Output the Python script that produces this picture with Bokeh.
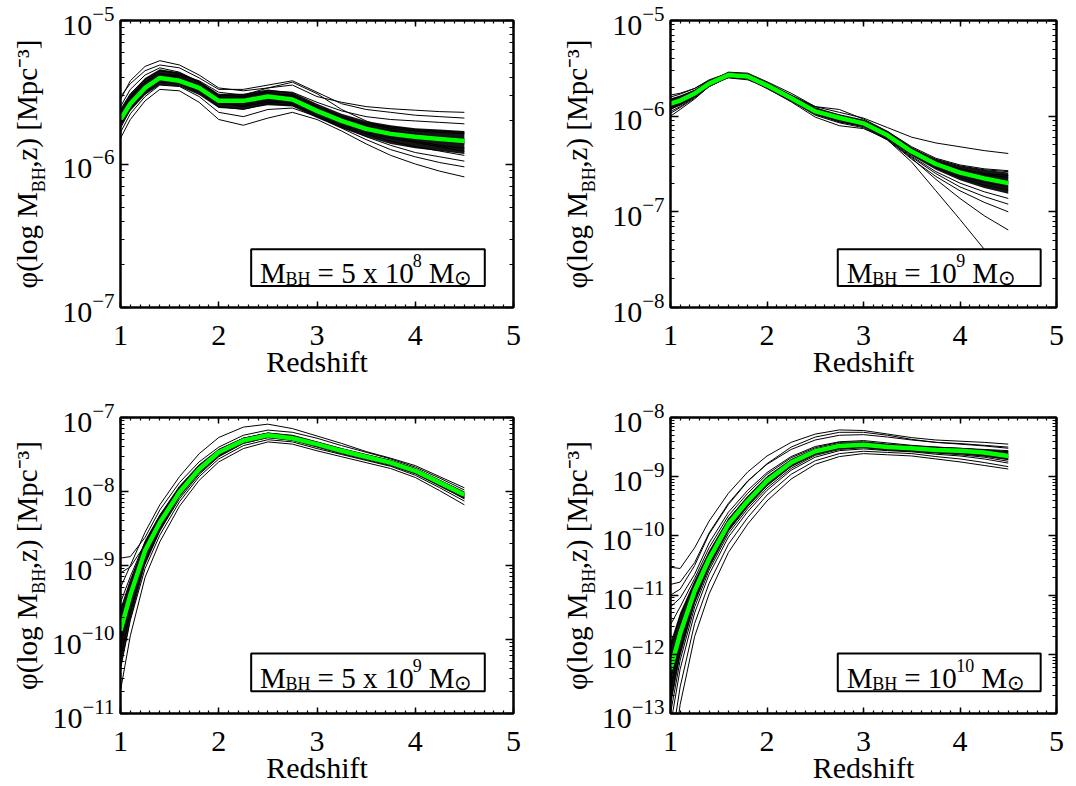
import math
from bokeh.plotting import figure
from bokeh.layouts import gridplot
from bokeh.models import (FixedTicker, LogAxis, LinearAxis, Label, BoxAnnotation,
                          CustomJSTickFormatter, Range1d)
from bokeh.embed import file_html
from bokeh.resources import INLINE

# ---------------- data (log10 of phi) ----------------
redshift = [1.0, 1.1, 1.25, 1.4, 1.6, 1.8, 2.0, 2.25, 2.5, 2.75, 3.0, 3.25, 3.5, 3.75, 4.0, 4.25, 4.5]

# Panel 1: M_BH = 5 x 10^8
p1_median = [-5.69, -5.58, -5.47, -5.40, -5.42, -5.47, -5.56, -5.56, -5.53, -5.55, -5.63, -5.70, -5.755, -5.79, -5.81, -5.825, -5.84]
p1_core_hi = [-5.62, -5.51, -5.40, -5.34, -5.36, -5.42, -5.51, -5.51, -5.48, -5.50, -5.58, -5.65, -5.70, -5.73, -5.75, -5.76, -5.77]
p1_core_lo = [-5.74, -5.63, -5.52, -5.45, -5.46, -5.52, -5.61, -5.62, -5.59, -5.60, -5.68, -5.75, -5.81, -5.86, -5.89, -5.91, -5.93]
p1_samples = [
    [-5.55, -5.42, -5.32, -5.28, -5.31, -5.38, -5.47, -5.49, -5.47, -5.45, -5.53, -5.57, -5.60, -5.615, -5.625, -5.635, -5.64],
    [-5.53, -5.44, -5.35, -5.31, -5.33, -5.40, -5.48, -5.48, -5.45, -5.42, -5.50, -5.58, -5.62, -5.64, -5.66, -5.67, -5.68],
    [-5.60, -5.48, -5.38, -5.33, -5.36, -5.43, -5.52, -5.53, -5.49, -5.50, -5.57, -5.63, -5.67, -5.69, -5.70, -5.71, -5.72],
    [-5.62, -5.51, -5.41, -5.35, -5.37, -5.43, -5.53, -5.55, -5.51, -5.52, -5.60, -5.67, -5.72, -5.75, -5.77, -5.78, -5.79],
    [-5.66, -5.54, -5.43, -5.37, -5.39, -5.45, -5.54, -5.54, -5.50, -5.53, -5.61, -5.69, -5.75, -5.79, -5.82, -5.84, -5.86],
    [-5.70, -5.58, -5.47, -5.40, -5.41, -5.46, -5.56, -5.57, -5.53, -5.54, -5.62, -5.70, -5.76, -5.81, -5.84, -5.87, -5.89],
    [-5.72, -5.60, -5.49, -5.42, -5.43, -5.49, -5.58, -5.59, -5.56, -5.58, -5.66, -5.73, -5.79, -5.84, -5.88, -5.91, -5.94],
    [-5.75, -5.62, -5.50, -5.43, -5.44, -5.50, -5.60, -5.62, -5.58, -5.59, -5.66, -5.74, -5.81, -5.87, -5.92, -5.95, -5.98],
    [-5.78, -5.65, -5.53, -5.45, -5.46, -5.53, -5.64, -5.67, -5.62, -5.61, -5.67, -5.75, -5.83, -5.90, -5.95, -5.99, -6.02],
    [-5.82, -5.69, -5.56, -5.48, -5.49, -5.57, -5.69, -5.73, -5.68, -5.64, -5.69, -5.77, -5.86, -5.94, -6.00, -6.05, -6.09],
    [-5.68, -5.57, -5.45, -5.38, -5.38, -5.42, -5.50, -5.52, -5.47, -5.43, -5.51, -5.62, -5.70, -5.76, -5.80, -5.83, -5.85],
    [-5.64, -5.53, -5.43, -5.37, -5.40, -5.47, -5.57, -5.60, -5.57, -5.57, -5.63, -5.68, -5.72, -5.74, -5.76, -5.77, -5.78],
    [-5.73, -5.61, -5.48, -5.41, -5.42, -5.48, -5.57, -5.58, -5.55, -5.56, -5.64, -5.72, -5.78, -5.82, -5.85, -5.88, -5.91],
    [-5.67, -5.56, -5.45, -5.39, -5.41, -5.47, -5.55, -5.55, -5.52, -5.53, -5.61, -5.68, -5.73, -5.77, -5.79, -5.81, -5.83],
]

# Panel 2: M_BH = 10^9
p2_median = [-5.87, -5.837, -5.763, -5.66, -5.57, -5.586, -5.678, -5.81, -5.95, -6.017, -6.075, -6.20, -6.37, -6.50, -6.59, -6.65, -6.70]
p2_core_hi = [-5.82, -5.79, -5.725, -5.625, -5.54, -5.555, -5.645, -5.775, -5.915, -5.98, -6.035, -6.155, -6.325, -6.45, -6.52, -6.56, -6.59]
p2_core_lo = [-5.93, -5.89, -5.805, -5.695, -5.60, -5.615, -5.715, -5.845, -5.985, -6.055, -6.11, -6.235, -6.415, -6.56, -6.67, -6.75, -6.81]
p2_samples = [
    [-5.80, -5.77, -5.71, -5.62, -5.55, -5.57, -5.66, -5.78, -5.90, -5.96, -6.02, -6.12, -6.22, -6.28, -6.32, -6.36, -6.39],
    [-5.95, -5.90, -5.80, -5.68, -5.58, -5.59, -5.67, -5.80, -5.96, -6.06, -6.10, -6.25, -6.48, -6.78, -7.08, -7.39, -7.65],
    [-5.78, -5.76, -5.71, -5.63, -5.56, -5.58, -5.66, -5.79, -5.92, -6.00, -6.06, -6.18, -6.34, -6.45, -6.52, -6.56, -6.58],
    [-5.83, -5.80, -5.74, -5.65, -5.57, -5.58, -5.67, -5.80, -5.93, -6.01, -6.07, -6.19, -6.36, -6.48, -6.56, -6.61, -6.64],
    [-5.86, -5.83, -5.76, -5.66, -5.57, -5.59, -5.68, -5.81, -5.95, -6.02, -6.08, -6.20, -6.37, -6.50, -6.60, -6.66, -6.70],
    [-5.90, -5.86, -5.78, -5.67, -5.58, -5.59, -5.68, -5.82, -5.96, -6.03, -6.09, -6.22, -6.40, -6.54, -6.64, -6.72, -6.77],
    [-5.93, -5.88, -5.79, -5.68, -5.58, -5.60, -5.69, -5.83, -5.97, -6.04, -6.10, -6.23, -6.42, -6.58, -6.70, -6.79, -6.86],
    [-6.00, -5.93, -5.82, -5.69, -5.59, -5.60, -5.70, -5.84, -5.99, -6.07, -6.12, -6.25, -6.45, -6.63, -6.78, -6.90, -7.00],
    [-5.97, -5.91, -5.81, -5.69, -5.59, -5.61, -5.71, -5.85, -6.01, -6.10, -6.13, -6.24, -6.44, -6.66, -6.86, -7.04, -7.19],
    [-5.85, -5.82, -5.75, -5.64, -5.54, -5.55, -5.64, -5.76, -5.90, -5.93, -6.03, -6.16, -6.32, -6.44, -6.51, -6.55, -6.57],
    [-5.88, -5.84, -5.77, -5.67, -5.60, -5.62, -5.70, -5.82, -5.94, -6.00, -6.05, -6.17, -6.35, -6.49, -6.58, -6.64, -6.68],
    [-5.82, -5.79, -5.73, -5.64, -5.56, -5.57, -5.65, -5.78, -5.91, -5.99, -6.05, -6.18, -6.35, -6.47, -6.55, -6.60, -6.62],
    [-5.91, -5.87, -5.79, -5.68, -5.59, -5.61, -5.70, -5.84, -5.98, -6.06, -6.11, -6.24, -6.43, -6.60, -6.74, -6.84, -6.92],
    [-5.87, -5.84, -5.77, -5.66, -5.57, -5.58, -5.67, -5.81, -5.95, -6.03, -6.08, -6.21, -6.39, -6.52, -6.62, -6.69, -6.74],
]

# Panel 3: M_BH = 5 x 10^9
p3_median = [-9.88, -9.40, -8.80, -8.42, -8.01, -7.70, -7.47, -7.31, -7.24, -7.28, -7.36, -7.45, -7.53, -7.61, -7.72, -7.88, -8.045]
p3_core_hi = [-9.60, -9.20, -8.66, -8.31, -7.95, -7.65, -7.43, -7.275, -7.205, -7.245, -7.325, -7.415, -7.495, -7.575, -7.685, -7.84, -8.00]
p3_core_lo = [-10.40, -9.75, -9.00, -8.55, -8.08, -7.76, -7.53, -7.355, -7.28, -7.315, -7.395, -7.485, -7.565, -7.645, -7.765, -7.935, -8.10]
p3_samples = [
    [-8.90, -8.88, -8.62, -8.25, -7.88, -7.60, -7.40, -7.24, -7.17, -7.20, -7.28, -7.38, -7.47, -7.56, -7.67, -7.82, -7.98],
    [-9.30, -9.00, -8.55, -8.18, -7.80, -7.49, -7.27, -7.13, -7.09, -7.15, -7.25, -7.35, -7.46, -7.55, -7.65, -7.80, -7.95],
    [-9.50, -9.15, -8.68, -8.32, -7.93, -7.64, -7.43, -7.28, -7.21, -7.24, -7.33, -7.42, -7.50, -7.58, -7.69, -7.85, -8.01],
    [-9.70, -9.28, -8.75, -8.37, -7.97, -7.67, -7.45, -7.29, -7.22, -7.26, -7.34, -7.43, -7.51, -7.59, -7.70, -7.86, -8.03],
    [-9.95, -9.43, -8.83, -8.44, -8.03, -7.72, -7.49, -7.32, -7.25, -7.29, -7.37, -7.46, -7.54, -7.62, -7.73, -7.89, -8.05],
    [-10.10, -9.52, -8.88, -8.48, -8.06, -7.74, -7.51, -7.34, -7.26, -7.30, -7.39, -7.47, -7.55, -7.63, -7.75, -7.91, -8.08],
    [-10.25, -9.62, -8.95, -8.53, -8.10, -7.77, -7.53, -7.35, -7.27, -7.31, -7.40, -7.49, -7.57, -7.65, -7.76, -7.92, -8.10],
    [-10.40, -9.74, -9.04, -8.59, -8.14, -7.80, -7.56, -7.38, -7.30, -7.33, -7.42, -7.50, -7.58, -7.66, -7.78, -7.95, -8.13],
    [-10.69, -9.95, -9.16, -8.68, -8.20, -7.85, -7.60, -7.42, -7.33, -7.36, -7.45, -7.53, -7.61, -7.69, -7.81, -7.99, -8.18],
    [-9.10, -9.02, -8.72, -8.35, -7.95, -7.66, -7.46, -7.31, -7.24, -7.27, -7.36, -7.44, -7.52, -7.60, -7.70, -7.86, -8.02],
    [-9.80, -9.35, -8.79, -8.40, -7.99, -7.69, -7.47, -7.30, -7.23, -7.27, -7.36, -7.44, -7.52, -7.60, -7.72, -7.89, -8.07],
    [-10.00, -9.48, -8.86, -8.46, -8.04, -7.72, -7.48, -7.31, -7.23, -7.27, -7.35, -7.44, -7.52, -7.60, -7.71, -7.87, -8.04],
    [-9.60, -9.20, -8.70, -8.33, -7.94, -7.65, -7.44, -7.28, -7.21, -7.25, -7.34, -7.43, -7.51, -7.59, -7.70, -7.86, -8.02],
]

# Panel 4: M_BH = 10^10
p4_median = [-12.25, -11.65, -10.93, -10.39, -9.80, -9.41, -9.07, -8.76, -8.57, -8.48, -8.46, -8.50, -8.52, -8.55, -8.56, -8.59, -8.65]
p4_core_hi = [-11.80, -11.30, -10.75, -10.25, -9.70, -9.33, -9.00, -8.71, -8.53, -8.44, -8.42, -8.46, -8.48, -8.51, -8.52, -8.54, -8.58]
p4_core_lo = [-12.90, -12.05, -11.15, -10.55, -9.93, -9.51, -9.16, -8.83, -8.63, -8.53, -8.51, -8.55, -8.57, -8.60, -8.62, -8.66, -8.72]
p4_samples = [
    [-10.53, -10.55, -10.20, -9.75, -9.28, -8.92, -8.65, -8.42, -8.28, -8.21, -8.22, -8.28, -8.34, -8.38, -8.40, -8.42, -8.45],
    [-10.82, -10.78, -10.45, -9.95, -9.45, -9.07, -8.79, -8.54, -8.38, -8.30, -8.29, -8.33, -8.38, -8.42, -8.45, -8.48, -8.52],
    [-11.20, -11.05, -10.65, -10.12, -9.60, -9.23, -8.93, -8.66, -8.49, -8.41, -8.39, -8.43, -8.47, -8.50, -8.52, -8.55, -8.58],
    [-11.90, -11.35, -10.80, -10.28, -9.72, -9.33, -9.00, -8.71, -8.53, -8.44, -8.42, -8.46, -8.49, -8.51, -8.53, -8.55, -8.58],
    [-12.40, -11.70, -10.98, -10.42, -9.83, -9.43, -9.09, -8.78, -8.58, -8.49, -8.47, -8.50, -8.53, -8.56, -8.57, -8.60, -8.66],
    [-12.80, -11.95, -11.12, -10.52, -9.91, -9.50, -9.15, -8.83, -8.62, -8.52, -8.50, -8.54, -8.56, -8.59, -8.61, -8.65, -8.71],
    [-13.20, -12.25, -11.30, -10.65, -10.02, -9.59, -9.23, -8.89, -8.67, -8.56, -8.53, -8.56, -8.58, -8.62, -8.65, -8.70, -8.77],
    [-13.60, -12.55, -11.48, -10.80, -10.14, -9.69, -9.31, -8.96, -8.73, -8.61, -8.57, -8.59, -8.61, -8.66, -8.70, -8.76, -8.83],
    [-14.00, -12.85, -11.70, -10.98, -10.28, -9.80, -9.41, -9.04, -8.79, -8.66, -8.61, -8.63, -8.65, -8.70, -8.75, -8.81, -8.87],
    [-12.10, -11.50, -10.88, -10.35, -9.78, -9.38, -9.05, -8.75, -8.56, -8.47, -8.45, -8.49, -8.51, -8.54, -8.56, -8.58, -8.62],
    [-12.60, -11.82, -11.05, -10.47, -9.87, -9.46, -9.12, -8.80, -8.60, -8.50, -8.48, -8.52, -8.55, -8.58, -8.60, -8.63, -8.68],
    [-13.00, -12.10, -11.20, -10.58, -9.96, -9.54, -9.19, -8.86, -8.64, -8.54, -8.51, -8.55, -8.57, -8.60, -8.63, -8.67, -8.74],
    [-11.50, -11.20, -10.72, -10.20, -9.66, -9.28, -8.96, -8.68, -8.51, -8.42, -8.41, -8.45, -8.48, -8.50, -8.52, -8.54, -8.56],
    [-11.00, -10.90, -10.50, -9.97, -9.47, -9.08, -8.78, -8.50, -8.33, -8.25, -8.25, -8.30, -8.37, -8.42, -8.44, -8.47, -8.50],
]

# y-axis decades (log10 bounds) per panel
y_bounds = [(-7, -5), (-8, -5), (-11, -7), (-13, -8)]
x_ticks = [1, 2, 3, 4, 5]

NB = "\u00a0"
SUN = ("\u2299", 0.72, -0.17)
legend_texts = [
    [("M", 1, 0), ("BH", 0.62, -0.2), (NB + "=" + NB + "5" + NB + "x" + NB + "10", 1, 0), ("8", 0.62, 0.45), (NB + "M", 1, 0), SUN],
    [("M", 1, 0), ("BH", 0.62, -0.2), (NB + "=" + NB + "10", 1, 0), ("9", 0.62, 0.45), (NB + "M", 1, 0), SUN],
    [("M", 1, 0), ("BH", 0.62, -0.2), (NB + "=" + NB + "5" + NB + "x" + NB + "10", 1, 0), ("9", 0.62, 0.45), (NB + "M", 1, 0), SUN],
    [("M", 1, 0), ("BH", 0.62, -0.2), (NB + "=" + NB + "10", 1, 0), ("10", 0.62, 0.45), (NB + "M", 1, 0), SUN],
]
# y title: main line (with a gap where the subscript sits) and the subscript
ylabel_main = "\u03c6(log" + NB + "M" + NB * 3 + "\u200a" + ",z)" + NB + "[Mpc\u207b\u00b3]"
ylabel_sub = "BH" + NB * 7

# ---------------- layout / style ----------------
FONT = "Liberation Serif"
FS = 30      # tick labels / axis title
FT = 29      # legend and y title
GREEN = "#00ff00"

ADV = {"\u03c6": 0.52, "(": 0.333, ")": 0.333, "l": 0.278, "o": 0.5, "g": 0.5, " ": 0.25, NB: 0.25,
       "M": 0.889, "B": 0.667, "H": 0.722, ",": 0.25, "z": 0.444, "[": 0.333, "]": 0.333,
       "p": 0.5, "c": 0.444, "-": 0.333, "=": 0.564, "x": 0.5, "\u2299": 0.84}


def adv(s, size):
    return sum(ADV.get(ch, 0.5) for ch in s) * size


def style_axis(ax, maj, mino):
    ax.axis_line_width = 2
    ax.axis_line_color = "black"
    ax.major_tick_in = maj
    ax.major_tick_out = 0
    ax.minor_tick_in = mino
    ax.minor_tick_out = 0
    ax.major_tick_line_width = 1.5
    ax.minor_tick_line_width = 1.2
    ax.major_tick_line_color = "black"
    ax.minor_tick_line_color = "black"
    ax.major_label_text_font = FONT
    ax.major_label_text_font_size = f"{FS}px"
    ax.major_label_text_color = "black"


def blank(ax):
    ax.formatter = CustomJSTickFormatter(code="return ''")
    ax.major_label_text_font_size = "1px"


ROW_H = [397, 389]
ROW_TOP = [20, 20]
ROW_BOTTOM = [90, 73]
LAB_W = 48
COL_W = [502, 470]
COL_LEFT = [68, 68]
COL_RIGHT = [37, 12]
YLABEL_CENTER = [170, 179]   # label centre, px from top of each row


def make_panel(idx, col, row):
    lo, hi = y_bounds[idx]
    W, H = COL_W[col], ROW_H[row]
    FW = W - COL_LEFT[col] - COL_RIGHT[col]
    FH = H - ROW_TOP[row] - ROW_BOTTOM[row]
    p = figure(width=W, height=H, x_range=(1, 5), y_range=(10 ** lo, 10 ** hi),
               y_axis_type="log", output_backend="svg", toolbar_location=None,
               min_border_left=COL_LEFT[col], min_border_right=COL_RIGHT[col],
               min_border_top=ROW_TOP[row], min_border_bottom=ROW_BOTTOM[row],
               background_fill_color="white", border_fill_color="white")
    p.grid.visible = False
    p.outline_line_color = "black"
    p.outline_line_width = 2

    xt = FixedTicker(ticks=x_ticks, minor_ticks=[1 + i * 0.1 for i in range(41)])
    yt = FixedTicker(ticks=[10.0 ** k for k in range(lo, hi + 1)],
                     minor_ticks=[m * 10.0 ** k for k in range(lo, hi) for m in range(2, 10)])
    p.xaxis.ticker = xt
    p.yaxis.ticker = yt
    style_axis(p.xaxis[0], 6, 3)
    style_axis(p.yaxis[0], 8, 4)
    p.xaxis.major_label_standoff = 18
    p.yaxis.major_label_standoff = 6
    p.xaxis.axis_label = "Redshift"
    p.xaxis.axis_label_text_font = FONT
    p.xaxis.axis_label_text_font_size = f"{FS}px"
    p.xaxis.axis_label_text_font_style = "normal"
    p.xaxis.axis_label_text_color = "black"
    p.xaxis.axis_label_standoff = -3

    top = LinearAxis(ticker=xt)
    style_axis(top, 6, 3)
    blank(top)
    p.add_layout(top, "above")
    right = LogAxis(ticker=yt)
    style_axis(right, 8, 4)
    blank(right)
    p.add_layout(right, "right")

    samples = [p1_samples, p2_samples, p3_samples, p4_samples][idx]
    median = [p1_median, p2_median, p3_median, p4_median][idx]
    core_hi = [p1_core_hi, p2_core_hi, p3_core_hi, p4_core_hi][idx]
    core_lo = [p1_core_lo, p2_core_lo, p3_core_lo, p4_core_lo][idx]
    p.varea(x=redshift, y1=[10 ** v for v in core_lo], y2=[10 ** v for v in core_hi],
            fill_color="black", fill_alpha=0.92)
    for s in samples:
        assert len(s) == len(redshift)
        p.line(redshift, [10 ** v for v in s], line_color="black", line_width=1)
    p.line(redshift, [10 ** v for v in median], line_color=GREEN, line_width=4.5)

    def to_data(px, py):
        return 1 + px / FW * 4, 10 ** (hi - py / FH * (hi - lo))

    # legend box (positions as fractions of the frame height)
    bx0, bx1 = (132, 368) if col == 0 else (169, 374)
    x0, y0 = to_data(bx0, 0.797 * FH)
    x1, y1 = to_data(bx1, 0.925 * FH)
    p.add_layout(BoxAnnotation(left=x0, right=x1, top=y0, bottom=y1, fill_color="white",
                               fill_alpha=1, line_color="black", line_alpha=1, line_width=2))
    pos = bx0 + 9
    base = 0.881 * FH
    for text, sc, sh in legend_texts[idx]:
        size = FT * sc
        x, y = to_data(pos, base - sh * FT)
        p.add_layout(Label(x=x, y=y, text=text, text_font=FONT, text_font_size=f"{size:.1f}px",
                           text_align="left", text_baseline="alphabetic", text_color="black"))
        pos += adv(text, size)
    return p


def title_axis(text, size, standoff):
    ax = LinearAxis(ticker=FixedTicker(ticks=[]), axis_line_color=None,
                    major_tick_in=0, major_tick_out=0, minor_tick_in=0, minor_tick_out=0,
                    major_tick_line_color=None, minor_tick_line_color=None,
                    major_label_standoff=0, major_label_text_font_size="1px")
    ax.axis_label = text
    ax.axis_label_text_font = FONT
    ax.axis_label_text_font_size = f"{size:.1f}px"
    ax.axis_label_text_font_style = "normal"
    ax.axis_label_text_color = "black"
    ax.axis_label_standoff = standoff
    return ax


def make_ylabel(row):
    H = ROW_H[row]
    bottom = H - 2 * YLABEL_CENTER[row]
    lab = figure(width=LAB_W, height=H, x_range=Range1d(0, 1), y_range=Range1d(0, 1),
                 x_axis_location=None, y_axis_location=None,
                 output_backend="svg", toolbar_location=None,
                 min_border_left=45, min_border_right=0, min_border_top=0,
                 min_border_bottom=bottom,
                 background_fill_color="white", border_fill_color="white")
    lab.grid.visible = False
    lab.outline_line_color = None
    # subscript closest to the frame, main title overlapping it from outside
    lab.add_layout(title_axis(ylabel_sub, FT * 0.62, -3), "left")
    lab.add_layout(title_axis(ylabel_main, FT, -17), "left")
    return lab


panels = [make_panel(0, 0, 0), make_panel(1, 1, 0), make_panel(2, 0, 1), make_panel(3, 1, 1)]
labs = [make_ylabel(0), make_ylabel(0), make_ylabel(1), make_ylabel(1)]
grid = gridplot([[labs[0], panels[0], labs[1], panels[1]],
                 [labs[2], panels[2], labs[3], panels[3]]], toolbar_location=None)

open("out.html", "w").write(file_html(grid, INLINE))
